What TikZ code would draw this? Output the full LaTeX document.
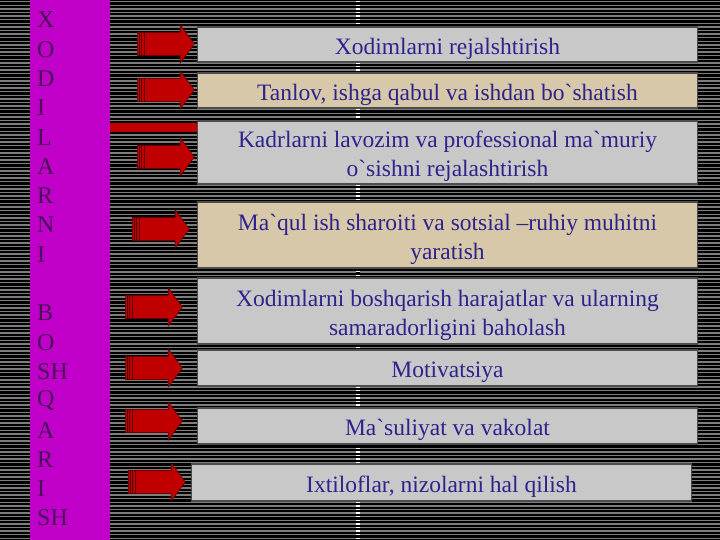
\documentclass[tikz,border=0pt]{standalone}
\usepackage{fontspec}
\setmainfont{Liberation Serif}
\usetikzlibrary{shapes.arrows,calc}
\definecolor{barmagenta}{RGB}{192,0,200}
\definecolor{letterpurple}{RGB}{72,18,88}
\definecolor{boxgray}{RGB}{200,200,200}
\definecolor{boxbeige}{RGB}{214,200,168}
\definecolor{textblue}{RGB}{45,35,140}
\definecolor{arrowred}{RGB}{192,0,0}
\definecolor{stripegray}{RGB}{125,125,125}
\newcommand\grv{\textasciigrave}
\tikzset{
  taskbox/.style={draw=black!70, line width=1.5pt, fill=boxgray, minimum width=500pt, inner sep=0pt},
  beigebox/.style={taskbox, fill=boxbeige},
  tasktext/.style={text=textblue, align=center, inner sep=0pt, yshift=-4pt,
    font=\fontsize{23.5}{29}\selectfont},
  redarrow/.style={single arrow, draw=arrowred!55!black, fill=arrowred, line width=0.6pt,
    minimum height=57pt, minimum width=38pt, inner sep=10.5pt,
    single arrow tip angle=107, anchor=tail},
  letter/.style={text=letterpurple, anchor=west, inner sep=0pt, font=\fontsize{24}{24}\selectfont}
}
\begin{document}
\begin{tikzpicture}[x=1pt,y=-1pt]
		% background
		\fill[black] (0,0) rectangle (720,540);
		\useasboundingbox (0,0) rectangle (720,540);
		\foreach \y in {0,...,149}
		\draw[stripegray, line width=1.4pt] (0,3.6*\y+1.8) -- (720,3.6*\y+1.8);
		\draw[black, line width=4.5pt] (358,0) -- (358,540);
		\draw[white, line width=4.5pt, dash pattern=on 1.4pt off 2.2pt] (358,1.1) -- (358,540);
		% left bar
		\node[fill=barmagenta, minimum width=80pt, minimum height=540pt, inner sep=0pt] (bar) at (70,270) {};
		\foreach \t [count=\i] in {X,O,D,I,L,A,R,N,I,{},B,O,SH,Q,A,R,I,SH}
		\node[letter] (l\i) at (37,20+29.3*\i-29.3) {\t};
		% boxes
		\node[taskbox, minimum height=35pt] (b1) at (447.5,44.5) {};
		\node[beigebox, minimum height=35pt] (b2) at (447.5,90.5) {};
		\node[taskbox, minimum height=63pt] (b3) at (447.5,152.5) {};
		\node[beigebox, minimum height=66pt] (b4) at (447.5,235) {};
		\node[taskbox, minimum height=66pt] (b5) at (447.5,311) {};
		\node[taskbox, minimum height=36pt] (b6) at (447.5,368) {};
		\node[taskbox, minimum height=36pt] (b7) at (447.5,426) {};
		\node[taskbox, minimum height=37pt] (b8) at (441.5,482.5) {};
		\node[tasktext] (t1) at (b1) {Xodimlarni rejalshtirish};
		\node[tasktext] (t2) at (b2) {Tanlov, ishga qabul va ishdan bo\grv shatish};
		\node[tasktext] (t3) at (b3) {Kadrlarni lavozim va professional ma\grv muriy\\o\grv sishni rejalashtirish};
		\node[tasktext] (t4) at (b4) {Ma\grv qul ish sharoiti va sotsial --ruhiy muhitni\\yaratish};
		\node[tasktext] (t5) at (b5) {Xodimlarni boshqarish harajatlar va ularning\\samaradorligini baholash};
		\node[tasktext] (t6) at (b6) {Motivatsiya};
		\node[tasktext] (t7) at (b7) {Ma\grv suliyat va vakolat};
		\node[tasktext] (t8) at (b8) {Ixtiloflar, nizolarni hal qilish};
		% red bar
		\coordinate (rl) at (0,127.5);
		\draw[arrowred, line width=9pt] (bar.east |- rl) -- (b3.west |- rl);
		% arrows
		\foreach \n/\x/\y in {1/137/44,2/137/90,3/137/157,4/132/229,5/125/307,6/125/368,7/125/421,8/128/482}
		{
		\node[redarrow] (ar\n) at (\x,\y) {};
		\foreach \k in {2,4.5,7}
		\draw[arrowred!45!black, line width=0.8pt] ($(ar\n.after tail)+(\k,0)$) -- ($(ar\n.before tail)+(\k,0)$);
		}
	    \end{tikzpicture}
\end{document}
